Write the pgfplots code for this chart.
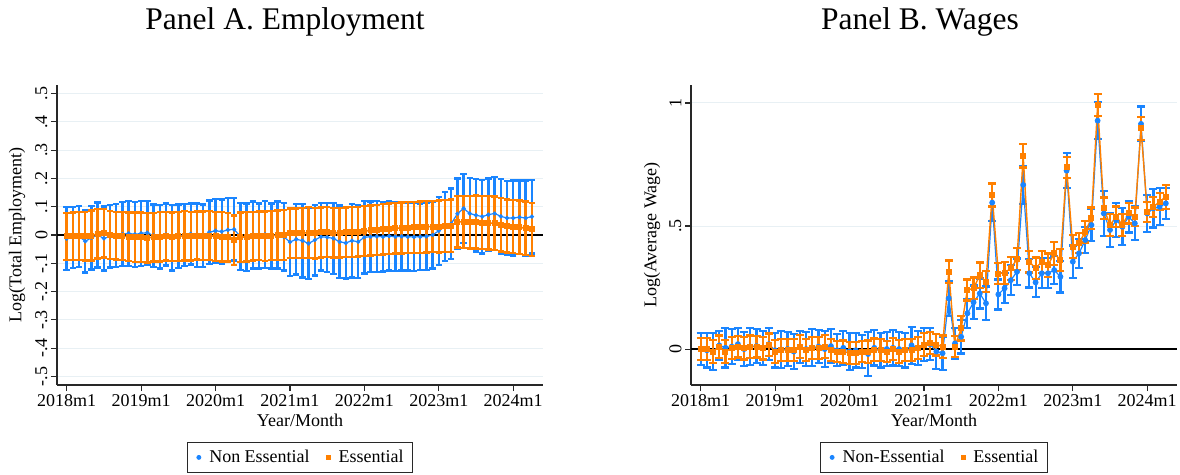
\documentclass[border=0pt]{standalone}
\usepackage{fontspec}
\setmainfont{Liberation Serif}
\usepackage{pgfplots}
\pgfplotsset{compat=1.18}
\usepackage{pgfplotstable}
\definecolor{cblue}{RGB}{26,133,255}
\definecolor{corange}{RGB}{255,128,0}
\definecolor{cgrid}{RGB}{232,240,244}
\definecolor{caxis}{RGB}{40,40,40}

\pgfplotstableread{
m b bh e eh
0 -0.013 0.111 -0.005 0.083
1 -0.008 0.108 -0.004 0.084
2 -0.005 0.108 -0.003 0.085
3 -0.022 0.110 -0.004 0.086
4 -0.010 0.112 -0.002 0.088
5 0.000 0.115 0.004 0.087
6 -0.012 0.113 0.006 0.086
7 -0.005 0.110 0.000 0.085
8 -0.002 0.112 -0.003 0.084
9 0.003 0.113 -0.004 0.085
10 0.006 0.115 -0.006 0.086
11 0.002 0.115 -0.008 0.087
12 0.006 0.115 -0.008 0.088
13 0.008 0.112 -0.010 0.087
14 -0.002 0.110 -0.008 0.086
15 -0.006 0.112 -0.006 0.087
16 0.002 0.110 -0.004 0.086
17 -0.010 0.115 -0.006 0.085
18 -0.004 0.112 -0.005 0.086
19 0.000 0.110 -0.003 0.087
20 0.004 0.108 -0.004 0.086
21 0.000 0.112 -0.002 0.085
22 -0.002 0.110 -0.003 0.086
23 0.010 0.112 -0.002 0.086
24 0.015 0.112 -0.005 0.087
25 0.012 0.113 -0.006 0.087
26 0.018 0.112 -0.008 0.086
27 0.020 0.110 -0.018 0.087
28 -0.005 0.118 -0.008 0.088
29 -0.008 0.120 -0.006 0.087
30 0.000 0.118 -0.004 0.086
31 -0.004 0.115 -0.003 0.086
32 0.002 0.118 -0.004 0.087
33 -0.003 0.115 -0.002 0.087
34 0.000 0.118 -0.001 0.088
35 -0.006 0.120 0.000 0.089
36 -0.025 0.120 0.006 0.088
37 -0.015 0.125 0.006 0.087
38 -0.020 0.130 0.007 0.089
39 -0.030 0.125 0.008 0.090
40 -0.018 0.125 0.006 0.089
41 -0.006 0.120 0.009 0.088
42 -0.008 0.122 0.010 0.088
43 -0.012 0.125 0.008 0.087
44 -0.024 0.128 0.008 0.088
45 -0.028 0.125 0.010 0.087
46 -0.020 0.130 0.010 0.088
47 -0.024 0.128 0.012 0.088
48 -0.008 0.128 0.014 0.088
49 -0.006 0.125 0.016 0.088
50 -0.005 0.125 0.018 0.088
51 -0.006 0.123 0.020 0.089
52 -0.004 0.122 0.022 0.089
53 -0.006 0.122 0.024 0.089
54 -0.005 0.120 0.025 0.090
55 -0.006 0.120 0.026 0.090
56 -0.007 0.120 0.027 0.090
57 -0.006 0.118 0.028 0.091
58 -0.005 0.118 0.029 0.091
59 0.000 0.118 0.030 0.091
60 0.015 0.120 0.030 0.092
61 0.030 0.122 0.031 0.092
62 0.040 0.125 0.032 0.093
63 0.075 0.125 0.047 0.091
64 0.094 0.122 0.046 0.092
65 0.076 0.125 0.045 0.092
66 0.070 0.128 0.046 0.093
67 0.065 0.130 0.044 0.093
68 0.072 0.128 0.043 0.094
69 0.076 0.130 0.041 0.095
70 0.066 0.132 0.036 0.094
71 0.060 0.130 0.032 0.094
72 0.060 0.132 0.030 0.094
73 0.063 0.130 0.027 0.095
74 0.060 0.133 0.024 0.094
75 0.065 0.130 0.020 0.094
}\empA

\pgfplotstableread{
m b bh e eh
0 0.000 0.065 0.000 0.045
1 -0.005 0.070 0.000 0.044
2 -0.010 0.075 -0.010 0.046
3 0.015 0.060 0.010 0.045
4 0.005 0.080 -0.010 0.047
5 0.010 0.070 0.004 0.045
6 0.020 0.065 0.010 0.044
7 0.000 0.070 0.004 0.046
8 0.010 0.075 0.010 0.045
9 0.012 0.068 0.010 0.044
10 0.005 0.070 0.004 0.046
11 0.020 0.065 0.018 0.045
12 -0.005 0.070 -0.010 0.046
13 -0.002 0.075 -0.003 0.045
14 0.000 0.070 -0.003 0.044
15 -0.010 0.072 -0.003 0.045
16 0.008 0.065 0.010 0.046
17 0.000 0.070 -0.003 0.045
18 0.005 0.075 0.004 0.044
19 0.010 0.068 0.004 0.045
20 0.000 0.072 0.010 0.046
21 0.012 0.070 -0.003 0.045
22 -0.005 0.065 -0.010 0.044
23 0.005 0.070 -0.010 0.045
24 -0.010 0.075 -0.016 0.046
25 -0.005 0.070 -0.016 0.045
26 -0.010 0.068 -0.010 0.044
27 -0.020 0.088 -0.010 0.045
28 0.005 0.072 -0.003 0.046
29 -0.005 0.070 -0.003 0.045
30 0.000 0.070 -0.010 0.044
31 0.005 0.072 0.000 0.045
32 0.000 0.068 -0.010 0.046
33 -0.005 0.070 -0.003 0.045
34 0.015 0.075 -0.003 0.044
35 0.005 0.070 0.004 0.045
36 0.018 0.068 0.018 0.046
37 0.020 0.065 0.024 0.045
38 -0.010 0.070 0.018 0.044
39 -0.017 0.068 0.010 0.045
40 0.206 0.072 0.314 0.046
41 0.023 0.064 0.010 0.042
42 0.050 0.068 0.084 0.049
43 0.145 0.060 0.240 0.043
44 0.190 0.068 0.247 0.044
45 0.226 0.061 0.300 0.052
46 0.186 0.068 0.274 0.042
47 0.595 0.075 0.626 0.047
48 0.222 0.061 0.307 0.043
49 0.247 0.061 0.310 0.045
50 0.280 0.061 0.328 0.047
51 0.314 0.054 0.366 0.044
52 0.667 0.076 0.785 0.047
53 0.308 0.058 0.355 0.044
54 0.271 0.061 0.328 0.044
55 0.308 0.061 0.355 0.045
56 0.308 0.061 0.341 0.047
57 0.321 0.058 0.389 0.046
58 0.294 0.064 0.362 0.044
59 0.725 0.072 0.738 0.044
60 0.355 0.066 0.416 0.047
61 0.389 0.058 0.430 0.041
62 0.443 0.054 0.477 0.044
63 0.504 0.064 0.531 0.044
64 0.928 0.076 0.992 0.046
65 0.551 0.091 0.572 0.044
66 0.484 0.068 0.504 0.044
67 0.524 0.068 0.538 0.041
68 0.497 0.075 0.504 0.044
69 0.538 0.064 0.551 0.041
70 0.511 0.068 0.538 0.037
71 0.915 0.071 0.897 0.047
72 0.551 0.075 0.558 0.041
73 0.572 0.078 0.578 0.041
74 0.578 0.075 0.599 0.034
75 0.592 0.064 0.619 0.049
}\wageB

\pgfplotsset{
  panel/.style={
    scale only axis, width=486pt, height=300pt,
    anchor=south west,
    axis lines*=left,
    axis line style={caxis, line width=1.1pt, -},
    tick align=outside,
    tick style={caxis, line width=1.1pt},
    major tick length=6pt,
    xmin=-1.56, xmax=76.8,
    xtick={0,12,...,72},
    xticklabels={2018m1,2019m1,2020m1,2021m1,2022m1,2023m1,2024m1},
    ymajorgrids,
    major grid style={cgrid, line width=1pt},
    ticklabel style={font=\fontsize{18}{20}\selectfont},
    yticklabel style={rotate=90, anchor=south},
    label style={font=\fontsize{18}{20}\selectfont},
    xlabel={Year/Month},
    legend style={at={(axis description cs:0.5,-0.19)}, anchor=north,
      legend columns=2, draw=caxis, line width=0.8pt,
      font=\fontsize{18}{20}\selectfont,
      inner xsep=7pt, inner ysep=6pt,
      /tikz/every even column/.append style={column sep=12pt}},
    legend cell align=left,
    legend image code/.code={\path (0pt,0pt) (12pt,0pt); \draw[##1] plot coordinates {(4pt,0pt)};},
  },
  barsB/.style={error bars/.cd, y dir=both, y explicit,
      error bar style={line width=2.2pt, #1},
      error mark options={rotate=90, #1, line width=2.2pt, mark size=4pt}},
  barsA/.style={error bars/.cd, y dir=both, y explicit,
      error bar style={line width=2.4pt, #1},
      error mark options={rotate=90, #1, line width=2.4pt, mark size=3.2pt}},
}

\begin{document}
\begin{tikzpicture}
\useasboundingbox (0pt,0pt) rectangle (1180pt,-474pt);
\node[font=\fontsize{31.5}{34}\selectfont, anchor=base] at (285pt,-29.3pt) {Panel A. Employment};
\node[font=\fontsize{31.5}{34}\selectfont, anchor=base] at (920pt,-29.3pt) {Panel B. Wages};

\begin{axis}[panel, at={(57pt,-385pt)},
  ymin=-0.53, ymax=0.53,
  ytick={-0.5,-0.4,-0.3,-0.2,-0.1,0,0.1,0.2,0.3,0.4,0.5},
  yticklabels={-.5,-.4,-.3,-.2,-.1,0,.1,.2,.3,.4,.5},
  ylabel={Log(Total Employment)},
  ylabel style={at={(axis description cs:-0.082,0.5)}, anchor=center},
]
\addplot[forget plot, black, line width=1.3pt] coordinates {(-1.56,0) (76.8,0)};
\addplot[forget plot, cblue, line width=1.2pt, mark=*, mark size=1.5pt, barsA=cblue]
  table[x=m, y=b, y error=bh] {\empA};
\addplot[forget plot, corange, line width=1.6pt, mark=square*, mark size=2.2pt, barsA=corange]
  table[x=m, y=e, y error=eh] {\empA};
\addlegendimage{only marks, mark=*, mark size=2pt, cblue}
\addlegendentry{Non Essential}
\addlegendimage{only marks, mark=square*, mark size=2pt, corange}
\addlegendentry{Essential}
\end{axis}

\begin{axis}[panel, at={(691pt,-385pt)},
  ymin=-0.146, ymax=1.073,
  ytick={0,0.5,1},
  yticklabels={0,.5,1},
  ylabel={Log(Average Wage)},
  ylabel style={at={(axis description cs:-0.080,0.5)}, anchor=center},
]
\addplot[forget plot, black, line width=1.3pt] coordinates {(-1.56,0) (76.8,0)};
\addplot[forget plot, cblue, line width=1.2pt, mark=*, mark size=2.3pt, barsB=cblue]
  table[x=m, y=b, y error=bh] {\wageB};
\addplot[forget plot, corange, line width=1.4pt, mark=square*, mark size=2.3pt, barsB=corange]
  table[x=m, y=e, y error=eh] {\wageB};
\addlegendimage{only marks, mark=*, mark size=2pt, cblue}
\addlegendentry{Non-Essential}
\addlegendimage{only marks, mark=square*, mark size=2pt, corange}
\addlegendentry{Essential}
\end{axis}
\end{tikzpicture}
\end{document}
